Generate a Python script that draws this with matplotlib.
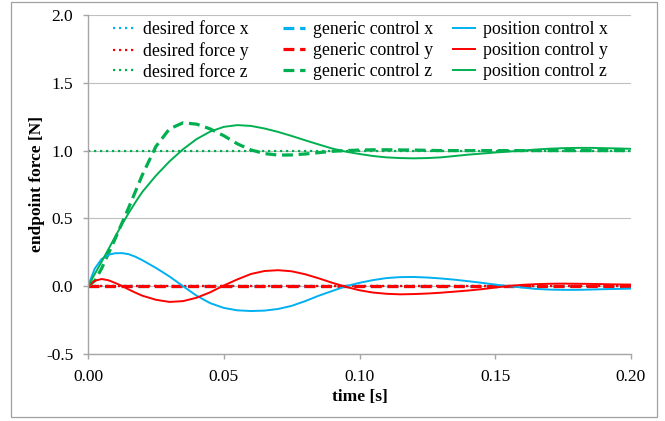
import matplotlib
matplotlib.use("Agg")
from matplotlib import pyplot as plt
from matplotlib.patches import Rectangle

plt.rcParams['font.family'] = ['Liberation Serif', 'DejaVu Serif']
plt.rcParams['font.size'] = 12.5
plt.rcParams['axes.unicode_minus'] = False

# time axis [s]
time = [0.0, 0.0025, 0.005, 0.0075, 0.01, 0.0125, 0.015, 0.0175, 0.02,
        0.025, 0.03, 0.035, 0.04, 0.045, 0.05, 0.055, 0.06, 0.065, 0.07,
        0.075, 0.08, 0.085, 0.09, 0.095, 0.1, 0.105, 0.11, 0.115, 0.12,
        0.125, 0.13, 0.135, 0.14, 0.145, 0.15, 0.155, 0.16, 0.165, 0.17,
        0.175, 0.18, 0.185, 0.19, 0.195, 0.2]
n = len(time)

# desired force
desired_x = [0.0] * n
desired_y = [0.0] * n
desired_z = [1.0] * n

# generic control
generic_x = [0.0] * n
generic_y = [0.0] * n
generic_z = [0.0, 0.04, 0.13, 0.24, 0.35, 0.465, 0.58, 0.70, 0.82,
             1.03, 1.16, 1.205, 1.195, 1.16, 1.11, 1.05, 1.005, 0.978, 0.967,
             0.968, 0.975, 0.985, 0.995, 1.0, 1.004, 1.006, 1.006, 1.005, 1.004,
             1.002, 1.0, 1.0, 1.0, 1.0, 1.0, 1.0, 1.0, 1.0, 1.0,
             1.0, 1.0, 1.0, 1.0, 1.0, 1.0]

# position control
position_x = [0.0, 0.13, 0.20, 0.232, 0.243, 0.244, 0.236, 0.217, 0.192,
              0.135, 0.072, 0.0, -0.07, -0.125, -0.16, -0.178, -0.183, -0.18, -0.168,
              -0.145, -0.11, -0.07, -0.035, 0.0, 0.025, 0.045, 0.06, 0.067, 0.068,
              0.064, 0.057, 0.048, 0.037, 0.025, 0.012, 0.0, -0.01, -0.02, -0.025,
              -0.027, -0.027, -0.025, -0.022, -0.02, -0.018]
position_y = [0.0, 0.04, 0.053, 0.044, 0.024, 0.002, -0.024, -0.048, -0.07,
              -0.10, -0.116, -0.11, -0.085, -0.045, 0.005, 0.05, 0.09, 0.112, 0.118,
              0.11, 0.088, 0.058, 0.025, -0.005, -0.03, -0.047, -0.056, -0.06, -0.058,
              -0.054, -0.048, -0.04, -0.032, -0.022, -0.01, 0.002, 0.01, 0.015, 0.018,
              0.019, 0.018, 0.017, 0.015, 0.013, 0.012]
position_z = [0.0, 0.09, 0.18, 0.272, 0.365, 0.455, 0.54, 0.62, 0.695,
              0.815, 0.92, 1.01, 1.085, 1.14, 1.175, 1.188, 1.182, 1.163, 1.138,
              1.108, 1.076, 1.045, 1.015, 0.992, 0.975, 0.96, 0.95, 0.945, 0.943,
              0.945, 0.95, 0.96, 0.97, 0.978, 0.986, 0.993, 1.0, 1.008, 1.014,
              1.018, 1.02, 1.02, 1.018, 1.016, 1.013]

xticks = [0.0, 0.05, 0.10, 0.15, 0.20]
yticks = [-0.5, 0.0, 0.5, 1.0, 1.5, 2.0]

blue = '#00B0F0'
red = '#FF0000'
green = '#00B050'
gray = '#A6A6A6'

W, H = 665, 421
fig = plt.figure(figsize=(W / 100, H / 100), dpi=100)
# chart area frame
fig.patches.append(Rectangle((11 / W, 1 - 417 / H), (657 - 11) / W, (417 - 2) / H,
                             transform=fig.transFigure, fill=False,
                             edgecolor='#A0A0A0', lw=0.9))

ax = fig.add_axes([88 / W, 1 - 354 / H, (631 - 88) / W, (354 - 15) / H])

dot = (0, (1.0, 1.7))
dash = (0, (3.4, 1.8))
lw_dot, lw_dash, lw_sol = 1.6, 2.3, 1.4

h = []
h += ax.plot(time, desired_x, color=blue, lw=lw_dot, ls=dot, label='desired force x')
h += ax.plot(time, desired_y, color=red, lw=lw_dot, ls=dot, label='desired force y')
h += ax.plot(time, desired_z, color=green, lw=lw_dot, ls=dot, label='desired force z')
h += ax.plot(time, generic_x, color=blue, lw=lw_dash, ls=dash, label='generic control x')
h += ax.plot(time, generic_y, color=red, lw=lw_dash, ls=dash, label='generic control y')
h += ax.plot(time, generic_z, color=green, lw=lw_dash, ls=dash, label='generic control z')
h += ax.plot(time, position_x, color=blue, lw=lw_sol, label='position control x')
h += ax.plot(time, position_y, color=red, lw=lw_sol, label='position control y')
h += ax.plot(time, position_z, color=green, lw=lw_sol, label='position control z')
for line in h:
    line.set_dash_capstyle('butt')

ax.set_xlim(0, 0.2)
ax.set_ylim(-0.5, 2.0)
ax.set_xticks(xticks)
ax.set_xticklabels(['%.2f' % v for v in xticks])
ax.set_yticks(yticks)
ax.set_yticklabels(['%.1f' % v for v in yticks])
ax.yaxis.grid(True, color='#BFBFBF', lw=0.8)
ax.set_axisbelow(True)
for s in ['top', 'right']:
    ax.spines[s].set_visible(False)
for s in ['left', 'bottom']:
    ax.spines[s].set_color(gray)
    ax.spines[s].set_linewidth(1.0)
ax.tick_params(direction='out', length=3.6, width=1.0, color=gray, pad=7, labelsize=12.5)

ax.set_xlabel('time [s]', fontweight='bold')
ax.set_ylabel('endpoint force [N]', fontweight='bold')
ax.xaxis.set_label_coords(0.5, -0.103)
ax.yaxis.set_label_coords(-0.08, 0.5)

# legend: three columns
col_x = [113, 283, 453]
for i in range(3):
    leg = ax.legend(handles=h[3 * i:3 * i + 3], loc='upper left',
                    bbox_to_anchor=(col_x[i] / W, 1 - 21 / H),
                    bbox_transform=fig.transFigure, frameon=False,
                    borderpad=0, borderaxespad=0, handlelength=1.25,
                    handletextpad=0.45, labelspacing=0.22, fontsize=12.8)
    if i < 2:
        ax.add_artist(leg)

fig.savefig('out.png', dpi=100)
